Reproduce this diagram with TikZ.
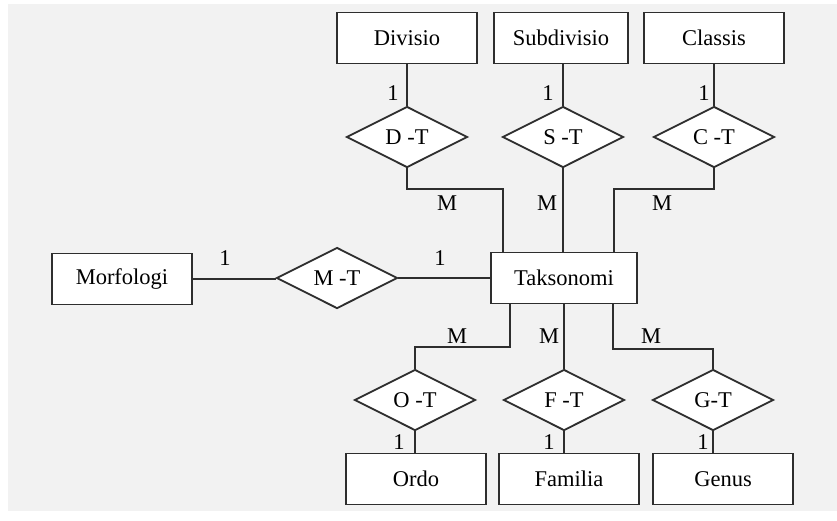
\documentclass[tikz,border=0pt]{standalone}
\usepackage{fontspec}
\setmainfont{Liberation Serif}
\usetikzlibrary{shapes.geometric}
\definecolor{bgc}{HTML}{F2F2F2}
\definecolor{linec}{HTML}{2E2E2E}
\begin{document}
\begin{tikzpicture}[x=1pt,y=-1pt,
  every node/.style={font=\fontsize{22.5}{26}\selectfont, text=black},
  ent/.style={draw=linec, line width=1.8pt, fill=white, rectangle, minimum height=51pt, inner sep=0pt},
  rel/.style={draw=linec, line width=1.8pt, fill=white, diamond, aspect=2, minimum width=121pt, minimum height=61pt, inner sep=0pt},
  conn/.style={draw=linec, line width=1.8pt},
  lab/.style={inner sep=0pt}]
\useasboundingbox (0,0) rectangle (837,520);
\fill[bgc] (8,4) rectangle (837,511);
% entities
\node[ent, minimum width=140pt] (divisio) at (407,38) {Divisio};
\node[ent, minimum width=134pt] (subdivisio) at (561,38) {Subdivisio};
\node[ent, minimum width=140pt] (classis) at (714,38) {Classis};
\node[ent, minimum width=146pt] (takso) at (564,278) {Taksonomi};
\node[ent, minimum width=140pt] (morfologi) at (122,279) {Morfologi};
\node[ent, minimum width=140pt] (ordo) at (416,479) {Ordo};
\node[ent, minimum width=140pt] (familia) at (569,479) {Familia};
\node[ent, minimum width=140pt] (genus) at (723,479) {Genus};
% relations
\node[rel] (dt) at (407,137) {D -T};
\node[rel] (st) at (563,137) {S -T};
\node[rel] (ct) at (714,137) {C -T};
\node[rel] (mt) at (337,278) {M -T};
\node[rel] (ot) at (415,400) {O -T};
\node[rel] (ft) at (564,400) {F -T};
\node[rel] (gt) at (713,400) {G-T};
% bend coordinates
\coordinate (c1) at (503,189);
\coordinate (c2) at (614,189);
\coordinate (c3) at (510,347);
\coordinate (c4) at (613,349);
% connectors
\draw[conn] (dt.north) -- (dt.north |- divisio.south);
\draw[conn] (st.north) -- (st.north |- subdivisio.south);
\draw[conn] (ct.north) -- (ct.north |- classis.south);
\draw[conn] (dt.south) |- (c1) -- (c1 |- takso.north);
\draw[conn] (st.south) -- (st.south |- takso.north);
\draw[conn] (ct.south) |- (c2) -- (c2 |- takso.north);
\draw[conn] (morfologi.east) -- (morfologi.east -| mt.west);
\draw[conn] (mt.east) -- (takso.west);
\draw[conn] (c3 |- takso.south) -- (c3) -| (ot.north);
\draw[conn] (ft.north) -- (ft.north |- takso.south);
\draw[conn] (c4 |- takso.south) -- (c4) -| (gt.north);
\draw[conn] (ot.south) -- (ot.south |- ordo.north);
\draw[conn] (ft.south) -- (ft.south |- familia.north);
\draw[conn] (gt.south) -- (gt.south |- genus.north);
% labels
\node[lab] (l1) at (393,93) {1};
\node[lab] (l2) at (548,93) {1};
\node[lab] (l3) at (704,93) {1};
\node[lab] (m1) at (447,203) {M};
\node[lab] (m2) at (547,203) {M};
\node[lab] (m3) at (662,203) {M};
\node[lab] (l4) at (225,258) {1};
\node[lab] (l5) at (440,258) {1};
\node[lab] (m4) at (457,336) {M};
\node[lab] (m5) at (549,336) {M};
\node[lab] (m6) at (651,336) {M};
\node[lab] (l6) at (399,442) {1};
\node[lab] (l7) at (549,442) {1};
\node[lab] (l8) at (703,442) {1};
\end{tikzpicture}
\end{document}
